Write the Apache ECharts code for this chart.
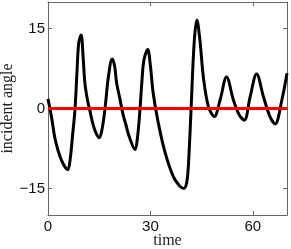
<!DOCTYPE html>
<html><head><meta charset="utf-8">
<script src="https://cdn.jsdelivr.net/npm/echarts@6/dist/echarts.min.js"></script>
<style>html,body{margin:0;padding:0;background:#fff}#c{width:291px;height:249px}</style>
</head><body><div id="c"></div>
<script>
const times = [0,1,2,3,4,5,5.8,6.5,7.2,7.9,8.5,9.0,9.7,10.3,10.8,11.5,12.3,13.0,13.8,15.0,15.8,16.7,17.7,18.8,19.5,20.1,21.0,22.0,22.8,23.8,25.5,26.2,26.9,27.5,28.1,29.2,30.0,30.8,32.3,34.3,36.7,38.5,39.8,40.6,41.1,41.9,42.8,43.6,44.5,45.5,47.0,48.7,50.4,52.3,54.3,56.0,57.5,59.2,61.1,63.1,65.0,66.5,68.5,70];
const angles = [1.8,-1.5,-5.5,-8.0,-9.8,-11.0,-11.5,-9.5,-5,-0.2,7,12.3,13.8,9.5,4.8,1.8,-0.5,-2.5,-4.2,-5.5,-4.0,0,6,9.3,8.0,4.8,2.0,-1.2,-3.0,-5.3,-7.7,-5.5,-0.5,5,9.1,11.1,8,2.9,-2.7,-8.3,-12.8,-14.5,-15.0,-14,-10.9,-0.2,12.3,16.6,12.8,5.9,0.3,-1.5,1.6,5.9,1.6,-1.2,-2.2,2.2,6.5,2.2,-1.5,-2.9,1.6,6.6];
const xTicks = [0,30,60];
const yTicks = [-15,0,15];
const refLine = [[0,0],[70,0]];

const frame = '#666';
const chart = echarts.init(document.getElementById('c'));
function ax(extra){
  return Object.assign({
    type:'value',
    nameMoveOverlap:false,
    axisLine:{show:true,onZero:false,lineStyle:{color:frame,width:1}},
    splitLine:{show:false}
  },extra);
}
const xTick = {show:true,inside:true,length:4,lineStyle:{color:frame},customValues:xTicks};
const yTick = {show:true,inside:true,length:4,lineStyle:{color:frame},customValues:yTicks};
chart.setOption({
  animation:false,
  grid:{left:48,right:4,top:2,bottom:34,outerBoundsMode:'none',containLabel:false},
  xAxis:[
    ax({min:0,max:70,position:'bottom',
      name:'time',nameLocation:'middle',nameGap:18,
      nameTextStyle:{fontFamily:'Liberation Serif',fontSize:16,color:'#222'},
      axisTick:xTick,
      axisLabel:{show:true,fontFamily:'Liberation Sans',fontSize:15,color:'#111',margin:4,customValues:xTicks}}),
    ax({min:0,max:70,position:'top',axisTick:xTick,axisLabel:{show:false}})
  ],
  yAxis:[
    ax({min:-20,max:20,position:'left',
      name:'incident angle',nameLocation:'middle',nameGap:32,
      nameTextStyle:{fontFamily:'Liberation Serif',fontSize:16,color:'#222'},
      axisTick:yTick,
      axisLabel:{show:true,fontFamily:'Liberation Sans',fontSize:15,color:'#111',margin:3,customValues:yTicks,
        formatter:v=>(v<0?'\u2212'+Math.abs(v):String(v))}}),
    ax({min:-20,max:20,position:'right',axisTick:yTick,axisLabel:{show:false}})
  ],
  series:[
    {type:'line',data:times.map((t,i)=>[t,angles[i]]),smooth:0.35,showSymbol:false,
      lineStyle:{color:'#000',width:3},xAxisIndex:0,yAxisIndex:0,z:2},
    {type:'line',data:refLine,showSymbol:false,lineStyle:{color:'#ff0000',width:3},xAxisIndex:0,yAxisIndex:0,z:3}
  ]
});
</script></body></html>
